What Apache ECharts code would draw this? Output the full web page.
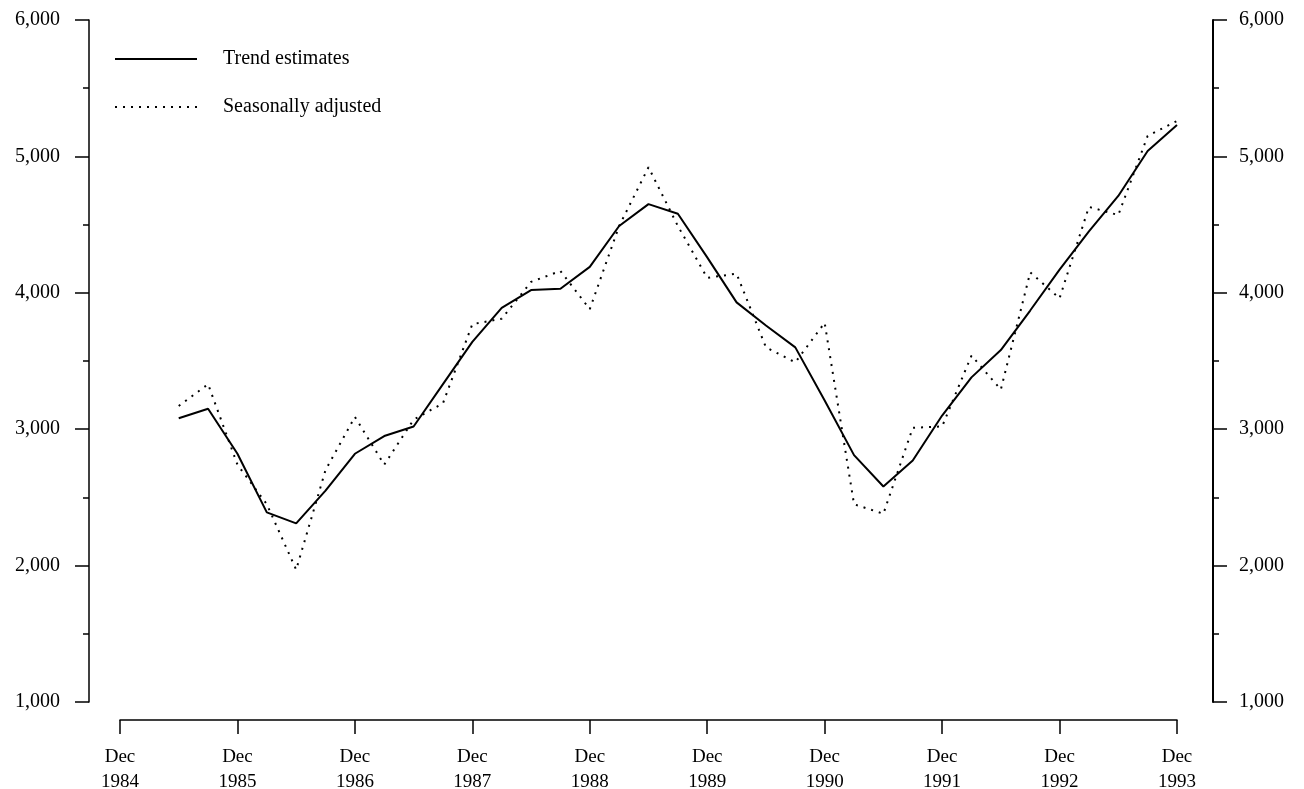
<!DOCTYPE html>
<html>
<head>
<meta charset="utf-8">
<script src="https://cdn.jsdelivr.net/npm/echarts@6/dist/echarts.min.js"></script>
<style>
  html, body { margin: 0; padding: 0; background: #fff; }
  #chart { width: 1304px; height: 789px; }
</style>
</head>
<body>
<div id="chart"></div>
<script>
// quarterly periods, Dec 1984 .. Dec 1993
var quarters = [
    'Dec 1984',
    'Mar 1985', 'Jun 1985', 'Sep 1985', 'Dec 1985',
    'Mar 1986', 'Jun 1986', 'Sep 1986', 'Dec 1986',
    'Mar 1987', 'Jun 1987', 'Sep 1987', 'Dec 1987',
    'Mar 1988', 'Jun 1988', 'Sep 1988', 'Dec 1988',
    'Mar 1989', 'Jun 1989', 'Sep 1989', 'Dec 1989',
    'Mar 1990', 'Jun 1990', 'Sep 1990', 'Dec 1990',
    'Mar 1991', 'Jun 1991', 'Sep 1991', 'Dec 1991',
    'Mar 1992', 'Jun 1992', 'Sep 1992', 'Dec 1992',
    'Mar 1993', 'Jun 1993', 'Sep 1993', 'Dec 1993'
];

// series start at Jun 1985
var trendEstimates = [
    3080, 3150, 2820,
    2390, 2310, 2550, 2820,
    2950, 3020, 3330, 3640,
    3890, 4020, 4030, 4190,
    4490, 4650, 4580, 4260,
    3930, 3760, 3600, 3210,
    2810, 2580, 2770, 3100,
    3380, 3580, 3870, 4170,
    4450, 4710, 5040, 5230
];
var seasonallyAdjusted = [
    3170, 3330, 2740,
    2450, 1970, 2700, 3090,
    2740, 3070, 3190, 3770,
    3810, 4080, 4160, 3880,
    4490, 4920, 4490, 4110,
    4140, 3600, 3490, 3780,
    2450, 2380, 3010, 3020,
    3540, 3290, 4150, 3960,
    4630, 4570, 5150, 5260
];

var yTicks = [1000, 2000, 3000, 4000, 5000, 6000];

var lead = [null, null]; // Dec 1984, Mar 1985 have no value

var font = 'Liberation Serif';
var chart = echarts.init(document.getElementById('chart'));

function yAxisOf(pos, offset) {
    return {
        type: 'value',
        position: pos,
        offset: offset,
        min: yTicks[0],
        max: yTicks[yTicks.length - 1],
        interval: 1000,
        splitLine: {show: false},
        axisLine: {show: true, lineStyle: {color: '#000', width: pos === 'right' ? 2 : 1.5}},
        axisTick: {show: true, length: 14, lineStyle: {color: '#000', width: 1.5}},
        minorTick: {show: true, splitNumber: 2, length: 6, lineStyle: {color: '#000', width: 1.5}},
        axisLabel: {
            color: '#000',
            fontFamily: font,
            fontSize: 20,
            margin: pos === 'right' ? 26 : 29,
            formatter: function (v) { return v.toLocaleString('en-US'); }
        }
    };
}

var option = {
    animation: false,
    backgroundColor: '#fff',
    grid: {left: 120, right: 127, top: 20, bottom: 87, containLabel: false, outerBoundsMode: 'none'},
    legend: {
        orient: 'vertical',
        left: 114,
        top: 49,
        padding: 0,
        itemWidth: 82,
        itemHeight: 20,
        itemGap: 28,
        itemStyle: {opacity: 0},
        textStyle: {color: '#000', fontFamily: font, fontSize: 20, padding: [0, 0, 0, 21]},
        data: ['Trend estimates', 'Seasonally adjusted']
    },
    xAxis: {
        type: 'category',
        data: quarters,
        boundaryGap: false,
        offset: 18,
        axisLine: {lineStyle: {color: '#000', width: 1.5}},
        axisTick: {interval: 3, length: 14, lineStyle: {color: '#000', width: 1.5}},
        axisLabel: {
            interval: 3,
            color: '#000',
            fontFamily: font,
            fontSize: 19,
            lineHeight: 25,
            margin: 25,
            formatter: function (v) { return v.replace(' ', '\n'); }
        },
        splitLine: {show: false}
    },
    yAxis: [yAxisOf('left', 31), yAxisOf('right', 36)],
    series: [
        {
            name: 'Trend estimates',
            type: 'line',
            yAxisIndex: 0,
            symbol: 'none',
            data: lead.concat(trendEstimates),
            itemStyle: {color: '#000'},
            lineStyle: {color: '#000', width: 2}
        },
        {
            name: 'Seasonally adjusted',
            type: 'line',
            yAxisIndex: 0,
            symbol: 'none',
            data: lead.concat(seasonallyAdjusted),
            itemStyle: {color: '#000'},
            lineStyle: {color: '#000', width: 2, type: [2, 6]}
        }
    ]
};

chart.setOption(option);
</script>
</body>
</html>
